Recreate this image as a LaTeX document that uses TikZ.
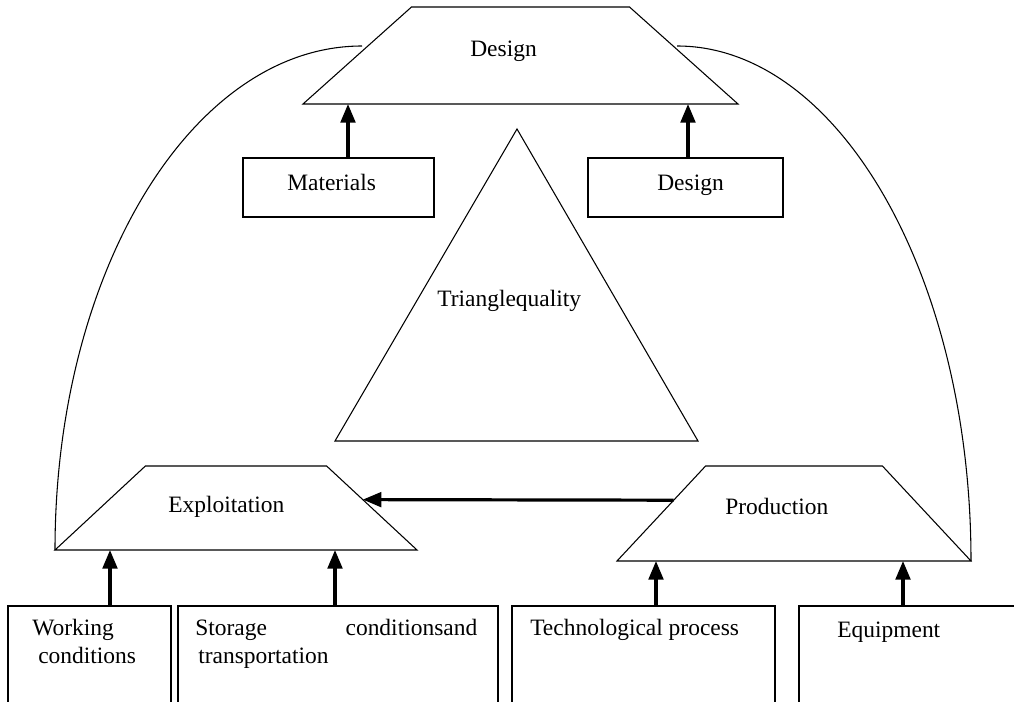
\documentclass[tikz,border=0pt]{standalone}
\usepackage{fontspec}
\setmainfont{Liberation Serif}
\usetikzlibrary{
	arrows.meta,
	shapes.geometric,
	calc
}

\begin{document}
\begin{tikzpicture}[
		x=0.75pt, y=-0.75pt,
		font=\fontsize{17.6}{21}\selectfont,
		trap/.style={draw, trapezium, trapezium stretches body, outer sep=0pt, inner xsep=0pt, line width=0.8pt},
		box/.style={draw, rectangle, outer sep=0pt, line width=0.8pt},
		txt/.style={inner sep=0pt, anchor=base west, align=left},
		link/.style={line width=0.8pt},
		arrow/.style={-{Triangle[length=14pt,width=11pt]}, line width=2.4pt}
		]
		
		\useasboundingbox (0,0) rectangle (1014,702);
		
		% --- Top row ---
		\node[trap, trapezium angle=41.8, minimum width=326.25pt, inner ysep=36.375pt] (design) at (520.5,55.5) {};
		\node[txt] (designtxt) at (470,57) {Design};
		
		\node[box, minimum width=143.25pt, minimum height=44.25pt] (mat) at (338.5,187.5) {};
		\node[txt] (mattxt) at (287,191) {Materials};
		
		\node[box, minimum width=146.25pt, minimum height=44.25pt] (dsgn) at (685.5,187.5) {};
		\node[txt] (dsgntxt) at (657,191) {Design};
		
		% --- Triangle ---
		\draw[link] (517,129) -- (698,441) -- (335,441) -- cycle;
		\node[txt] (tri) at (437,307) {Trianglequality};
		
		% --- Middle row ---
		\node[trap, trapezium angle=42.9, minimum width=271.5pt, inner ysep=31.5pt] (expl) at (236,508) {};
		\node[txt] (expltxt) at (168,512) {Exploitation};
		
		\node[trap, trapezium angle=47, minimum width=265.5pt, inner ysep=35.625pt] (prod) at (794,513.5) {};
		\node[txt] (prodtxt) at (725,514) {Production};
		
		% --- Bottom row ---
		\node[box, anchor=north west, minimum width=122.25pt, minimum height=85.5pt] (work) at (8,606) {};
		\node[txt] (worktxt) at (32,663) {Working\\\hspace*{4.5pt}conditions};
		
		\node[box, anchor=north west, minimum width=240pt, minimum height=85.5pt] (stor) at (178,606) {};
		\node[txt, text width=211.5pt] (stortxt) at (195,635) {Storage\hfill conditionsand\\\hspace*{2.25pt}transportation};
		
		\node[box, anchor=north west, minimum width=197.25pt, minimum height=85.5pt] (tech) at (512,606) {};
		\node[txt] (techtxt) at (530,635) {Technological process};
		
		\node[box, anchor=north west, minimum width=173.25pt, minimum height=85.5pt] (equip) at (799,606) {};
		\node[txt] (equiptxt) at (837,637) {Equipment};
		
		% --- Arrows ---
		\draw[arrow] (348,0 |- mat.north) -- (348,0 |- design.bottom side);
		\draw[arrow] (688,0 |- dsgn.north) -- (688,0 |- design.bottom side);
		
		\draw[arrow] (110,0 |- work.north) -- (110,0 |- expl.bottom side);
		\draw[arrow] (335,0 |- stor.north) -- (335,0 |- expl.bottom side);
		\draw[arrow] (656,0 |- tech.north) -- (656,0 |- prod.bottom side);
		\draw[arrow] (903,0 |- equip.north) -- (903,0 |- prod.bottom side);
		
		\draw[arrow] ($(prod.top left corner)!0.36!(prod.bottom left corner)$) -- ($(expl.top right corner)!0.4!(expl.bottom right corner)$);
		
		% --- Feedback curves ---
		\coordinate (lcurve) at (362,46);
		\coordinate (rcurve) at (677,46);
		\draw[link] (lcurve) .. controls (192,46) and (55,272) .. (expl.bottom left corner);
		\draw[link] (rcurve) .. controls (839,46) and (971,277) .. (prod.bottom right corner);
		
	\end{tikzpicture}
\end{document}
